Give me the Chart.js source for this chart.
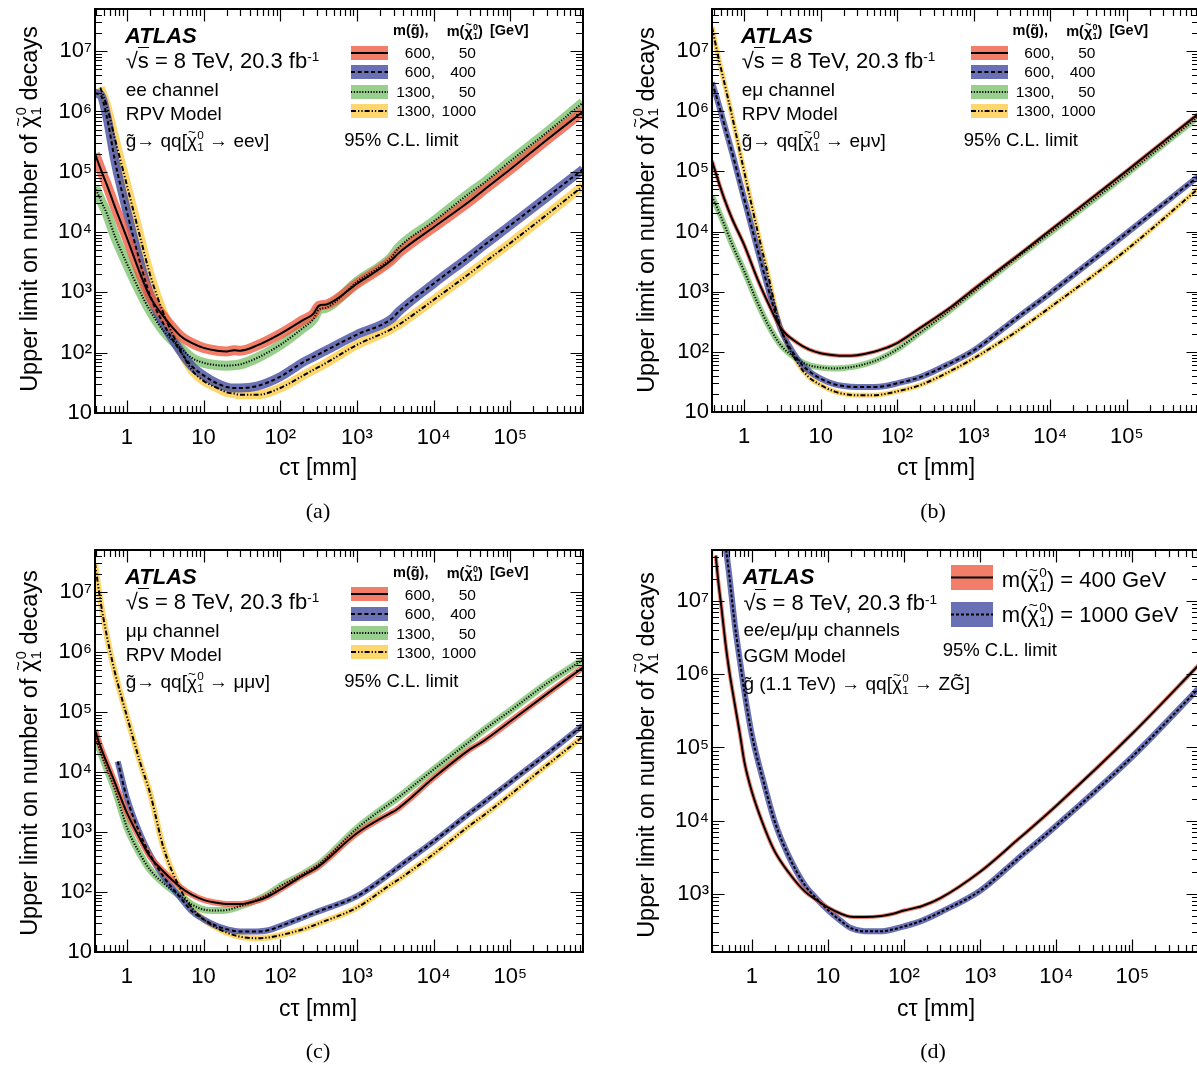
<!DOCTYPE html>
<html><head><meta charset="utf-8">
<script src="https://cdn.jsdelivr.net/npm/chart.js"></script>
<style>
html,body{margin:0;padding:0;background:#fff;}
body{width:1197px;height:1066px;overflow:hidden;position:relative;font-family:"Liberation Sans",Arial,Helvetica,sans-serif;color:#000;}
canvas.cv{position:absolute;}
.t{position:absolute;white-space:nowrap;line-height:1;}
.ss{display:inline-block;vertical-align:-0.3em;font-size:0.62em;line-height:1;text-align:left;margin-left:0.03em;}
.ss span{display:block;}
.til{position:relative;display:inline-block;}
.tm{position:absolute;left:0;right:0;text-align:center;font-size:0.7em;top:-0.45em;line-height:1;}
.up{position:relative;top:-0.5em;font-size:0.62em;}
.rad{border-top:1.4px solid #000;}
.ytitle{position:absolute;white-space:nowrap;line-height:1;font-size:23.5px;transform:translate(-50%,-50%) rotate(-90deg);}
.sw{position:absolute;}
</style></head><body>
<script>
// ---------------- DATA ----------------
const xTicks = [1, 10, 1e2, 1e3, 1e4, 1e5];
const yTicksRPV = [10, 1e2, 1e3, 1e4, 1e5, 1e6, 1e7];
const yTicksGGM = [1e3, 1e4, 1e5, 1e6, 1e7];

// (a) ee channel: c*tau [mm] and upper limits on number of decays
const ctEE = [0.384, 0.45, 0.55, 0.7, 1, 1.5, 2, 3, 5, 7, 10, 15, 20, 25, 30, 50, 100, 200, 270, 320, 400, 1000, 2800, 3500, 1e4, 3e4, 4.5e4, 1e5, 3e5, 8.85e5];
const ee_600_50 = [2.0e5, 1.15e5, 6e4, 2.6e4, 8e3, 2.0e3, 850, 400, 190, 145, 120, 108, 105, 110, 108, 132, 205, 350, 440, 600, 630, 1400, 3400, 4500, 1.2e4, 3.3e4, 5e4, 1.1e5, 3.4e5, 1.0e6];
const ee_600_400 = [2e6, 1.9e6, 8e5, 1.5e5, 2.2e4, 3e3, 900, 300, 105, 60, 42, 31, 27, 26, 26, 28, 40, 70, 85, 95, 110, 200, 360, 480, 1.4e3, 4e3, 6e3, 1.3e4, 3.8e4, 1.1e5];
const ee_1300_50 = [5.6e4, 3.5e4, 2e4, 8.5e3, 3e3, 1e3, 500, 230, 120, 82, 68, 62, 61, 62, 64, 82, 135, 260, 360, 520, 560, 1500, 3800, 5500, 1.5e4, 4.5e4, 6.5e4, 1.5e5, 4.5e5, 1.4e6];
const ee_1300_1000 = [null, 2.5e6, 1.2e6, 3.5e5, 6e4, 8e3, 2e3, 450, 110, 52, 34, 26, 22, 21, 20, 20, 26, 42, 52, 58, 68, 135, 245, 290, 750, 2.1e3, 3.1e3, 6.6e3, 1.95e4, 5.8e4];

// (b) e-mu channel
const ctEM = [0.38, 0.45, 0.55, 0.7, 1, 1.5, 2, 3, 5, 7, 10, 15, 20, 30, 50, 70, 100, 200, 500, 1000, 3000, 3300, 1e4, 1e5, 8.8e5];
const em_600_50 = [1.5e5, 7.5e4, 3.5e4, 1.6e4, 6e3, 1.6e3, 700, 250, 140, 110, 95, 88, 86, 88, 100, 115, 140, 250, 550, 1.1e3, 3.2e3, 3.5e3, 1.05e4, 1.02e5, 9.2e5];
const em_600_400 = [3e6, 1.5e6, 6e5, 2e5, 3.5e4, 5e3, 1.3e3, 240, 75, 48, 36, 29, 27, 26, 26, 27, 30, 38, 65, 105, 300, 330, 950, 9.4e3, 8.4e4];
const em_1300_50 = [3.8e4, 2.4e4, 1.3e4, 6e3, 2.2e3, 650, 300, 130, 75, 60, 55, 53, 54, 58, 70, 85, 110, 210, 500, 1e3, 3e3, 3.3e3, 9.5e3, 9e4, 8.3e5];
const em_1300_1000 = [2.5e7, 9e6, 3e6, 8e5, 1e5, 1e4, 2.2e3, 250, 65, 38, 28, 22, 20, 19, 19, 20, 22, 28, 48, 78, 185, 200, 550, 5e3, 5.3e4];

// (c) mu-mu channel
const ctMM = [0.384, 0.45, 0.55, 0.7, 0.76, 1, 1.5, 2, 3, 5, 7, 10, 15, 20, 30, 50, 70, 100, 200, 280, 320, 1000, 2800, 3200, 1e4, 3e4, 4.5e4, 1e5, 3e5, 8.85e5];
const mm_600_50 = [5e4, 2.7e4, 1.4e4, 6.6e3, 5e3, 2.1e3, 750, 390, 220, 120, 90, 74, 66, 63, 63, 72, 85, 110, 190, 240, 270, 950, 2.1e3, 2.3e3, 8e3, 2.4e4, 3.3e4, 7e4, 2e5, 5.5e5];
const mm_600_400 = [null, null, null, null, 1.5e4, 3.7e3, 900, 420, 180, 80, 48, 35, 27, 24, 22, 22, 23, 27, 38, 45, 48, 85, 210, 240, 700, 2.1e3, 3.1e3, 6.8e3, 2e4, 6e4];
const mm_1300_50 = [4e4, 2.2e4, 1.1e4, 5e3, 3.6e3, 1.2e3, 420, 235, 140, 85, 62, 51, 49, 50, 58, 74, 92, 125, 200, 260, 290, 1.15e3, 3.1e3, 3.5e3, 1.1e4, 3.3e4, 5e4, 1.05e5, 3e5, 7.4e5];
const mm_1300_1000 = [3e7, 7.4e6, 1.8e6, 4.5e5, 3e5, 8.5e4, 1.4e4, 4.5e3, 550, 110, 55, 35, 25, 21, 18, 17, 17.5, 19, 24, 28, 30, 55, 135, 150, 430, 1.3e3, 1.9e3, 4.2e3, 1.3e4, 3.9e4];

// (d) GGM model
const ctGGM = [0.336, 0.36, 0.4, 0.45, 0.5, 0.6, 0.7, 0.8, 1, 1.5, 2, 3, 5, 7, 10, 15, 20, 30, 50, 70, 100, 173, 300, 1000, 3000, 1e4, 1e5, 7.5e5];
const ggm_400 = [4.2e7, 2e7, 8e6, 2.7e6, 1.2e6, 3.8e5, 1.5e5, 6.3e4, 2.5e4, 7.5e3, 3.8e3, 2e3, 1.07e3, 830, 650, 530, 485, 480, 495, 530, 590, 680, 870, 2.0e3, 5.3e3, 1.6e4, 1.55e5, 1.35e6];
const ggm_1000 = [null, null, 1.5e8, 6e7, 2.5e7, 4.7e6, 1.5e6, 5.8e5, 1.5e5, 2.8e4, 9.7e3, 3.4e3, 1.3e3, 870, 600, 420, 340, 307, 307, 325, 358, 430, 560, 1.1e3, 2.9e3, 8.5e3, 7.5e4, 6.5e5];

// legend labels
const rpvMassGluino = ['600,', '600,', '1300,', '1300,'];
const rpvMassChi = ['50', '400', '50', '1000'];
const ggmMassChi = ['400', '1000'];

// ---------------- STYLE ----------------
Chart.defaults.font.family = '"Liberation Sans", Arial, Helvetica, sans-serif';
Chart.defaults.color = '#000';
const RPV_STY = [
  {band: 'rgba(239,93,68,0.8)',  swatch: '#f27d69', dash: []},
  {band: 'rgba(68,76,161,0.8)',  swatch: '#6970b4', dash: [4, 2.7]},
  {band: 'rgba(126,195,111,0.8)', swatch: '#98cf8c', dash: [1.2, 1.6]},
  {band: 'rgba(253,205,74,0.8)', swatch: '#fdd76e', dash: [5, 2, 1.3, 2, 1.3, 2]}
];
const GGM_STY = [
  {band: 'rgba(239,93,68,0.8)', swatch: '#f27d69', dash: []},
  {band: 'rgba(68,76,161,0.8)', swatch: '#6970b4', dash: [3, 2]}
];
const SUP = {'0':'⁰','1':'¹','2':'²','3':'³','4':'⁴','5':'⁵','6':'⁶','7':'⁷','8':'⁸','9':'⁹'};
function powLabel(v) {
  const e = Math.round(Math.log10(v));
  if (e === 0) return '1';
  if (e === 1) return '10';
  return '10' + String(e).split('').map(c => SUP[c]).join('');
}

const frameTicks = {
  id: 'frameTicks',
  afterDatasetsDraw(chart) {
    const {ctx, chartArea: a, scales} = chart;
    const MAJ = 12.5, MIN = 7;
    ctx.save();
    ctx.strokeStyle = '#000';
    ctx.lineWidth = 1.2;
    ctx.beginPath();
    const axis = (s, horiz) => {
      const lo = Math.floor(Math.log10(s.min)), hi = Math.ceil(Math.log10(s.max));
      for (let e = lo; e <= hi; e++) {
        for (let m = 1; m <= 9; m++) {
          const v = m * Math.pow(10, e);
          if (v < s.min * 0.9999 || v > s.max * 1.0001) continue;
          const p = Math.round(s.getPixelForValue(v)) + 0.5;
          const len = m === 1 ? MAJ : MIN;
          if (horiz) {
            ctx.moveTo(p, a.bottom); ctx.lineTo(p, a.bottom - len);
            ctx.moveTo(p, a.top); ctx.lineTo(p, a.top + len);
          } else {
            ctx.moveTo(a.left, p); ctx.lineTo(a.left + len, p);
            ctx.moveTo(a.right, p); ctx.lineTo(a.right - len, p);
          }
        }
      }
    };
    axis(scales.x, true);
    axis(scales.y, false);
    ctx.stroke();
    ctx.lineWidth = 2;
    ctx.strokeRect(a.left, a.top, a.right - a.left, a.bottom - a.top);
    ctx.restore();
  }
};

function pts(xs, ys) {
  const out = [];
  xs.forEach((x, i) => { if (ys[i] != null) out.push({x: x, y: ys[i]}); });
  return out;
}

function makePanel(p) {
  const padTop = 24, padRight = 20, yW = 95, xH = 77;
  const cv = document.createElement('canvas');
  cv.className = 'cv';
  const W = yW + (p.r - p.l) + padRight, H = padTop + (p.b - p.t) + xH;
  cv.width = W; cv.height = H;
  cv.style.left = (p.l - yW) + 'px';
  cv.style.top = (p.t - padTop) + 'px';
  cv.style.width = W + 'px'; cv.style.height = H + 'px';
  document.body.appendChild(cv);
  const datasets = [];
  p.series.forEach((ys, i) => {
    const st = p.sty[i];
    const d = pts(p.ct, ys);
    datasets.push({data: d, borderColor: '#000', borderWidth: 2, borderDash: st.dash, borderCapStyle: 'butt',
      pointRadius: 0, cubicInterpolationMode: 'monotone', fill: false, clip: 0, order: 1});
    datasets.push({data: d, borderColor: st.band, borderWidth: p.band[i], borderJoinStyle: 'round', borderCapStyle: 'butt',
      pointRadius: 0, cubicInterpolationMode: 'monotone', fill: false, clip: 0, order: 2});
  });
  new Chart(cv, {
    type: 'line',
    data: {datasets},
    options: {
      responsive: false, animation: false, devicePixelRatio: 1, events: [],
      layout: {padding: {left: 0, top: padTop, right: padRight, bottom: 0}},
      plugins: {legend: {display: false}, tooltip: {enabled: false}},
      scales: {
        x: {type: 'logarithmic', position: 'bottom', min: p.xmin, max: p.xmax,
          afterBuildTicks: s => { s.ticks = xTicks.map(v => ({value: v})); },
          afterFit: s => { s.height = xH; },
          ticks: {callback: v => powLabel(v), font: {size: 22}, color: '#000', padding: 12, autoSkip: false, maxRotation: 0, minRotation: 0},
          grid: {display: false, drawTicks: false}, border: {display: false}},
        y: {type: 'logarithmic', position: 'left', min: p.ymin, max: p.ymax,
          afterBuildTicks: s => { s.ticks = p.yticks.map(v => ({value: v})); },
          afterFit: s => { s.width = yW; },
          ticks: {callback: v => powLabel(v), font: {size: 22}, color: '#000', padding: 3, autoSkip: false},
          grid: {display: false, drawTicks: false}, border: {display: false}}
      }
    },
    plugins: [frameTicks]
  });
}

makePanel({l: 95, t: 9, r: 583, b: 413, xmin: 0.384, xmax: 8.85e5, ymin: 10, ymax: 5e7, yticks: yTicksRPV,
  ct: ctEE, series: [ee_600_50, ee_600_400, ee_1300_50, ee_1300_1000], sty: RPV_STY, band: [10, 9, 10, 9]});
makePanel({l: 712, t: 9, r: 1199, b: 412, xmin: 0.38, xmax: 8.8e5, ymin: 10, ymax: 5e7, yticks: yTicksRPV,
  ct: ctEM, series: [em_600_50, em_600_400, em_1300_50, em_1300_1000], sty: RPV_STY, band: [4, 6, 6, 5]});
makePanel({l: 95, t: 550, r: 583, b: 952, xmin: 0.384, xmax: 8.85e5, ymin: 10, ymax: 5e7, yticks: yTicksRPV,
  ct: ctMM, series: [mm_600_50, mm_600_400, mm_1300_50, mm_1300_1000], sty: RPV_STY, band: [6, 6, 7, 6]});
makePanel({l: 712, t: 550, r: 1199, b: 952, xmin: 0.336, xmax: 7.5e5, ymin: 160, ymax: 5e7, yticks: yTicksGGM,
  ct: ctGGM, series: [ggm_400, ggm_1000], sty: GGM_STY, band: [4, 6]});

// ---------------- TEXT ----------------
const CHI = '<span class="til">χ<span class="tm">~</span></span><span class="ss"><span>0</span><span>1</span></span>';
function addText(html, x, base, size, o) {
  o = o || {};
  const d = document.createElement('div');
  d.className = 't';
  d.innerHTML = html;
  d.style.fontSize = size + 'px';
  const k = o.serif ? 0.8375 : 0.8465;
  d.style.top = (base - k * size) + 'px';
  if (o.align === 'center') { d.style.left = x + 'px'; d.style.transform = 'translateX(-50%)'; }
  else if (o.align === 'right') { d.style.right = (1197 - x) + 'px'; }
  else d.style.left = x + 'px';
  if (o.bold) d.style.fontWeight = 'bold';
  if (o.italic) d.style.fontStyle = 'italic';
  if (o.serif) d.style.fontFamily = '"Liberation Serif", "Times New Roman", serif';
  document.body.appendChild(d);
}
function swatch(x, y, w, h, color, dash) {
  const d = document.createElement('div');
  d.className = 'sw';
  d.style.left = x + 'px'; d.style.top = y + 'px';
  d.innerHTML = '<svg width="' + w + '" height="' + h + '"><rect x="0" y="0" width="' + w + '" height="' + h + '" fill="' + color + '"/>' +
    '<line x1="0" y1="' + (h / 2) + '" x2="' + w + '" y2="' + (h / 2) + '" stroke="#000" stroke-width="2" stroke-dasharray="' + (dash.length ? dash.join(' ') : 'none') + '"/></svg>';
  document.body.appendChild(d);
}
function yTitle(cx, cy) {
  const d = document.createElement('div');
  d.className = 'ytitle';
  d.innerHTML = 'Upper limit on number of ' + CHI + ' decays';
  d.style.left = cx + 'px'; d.style.top = cy + 'px';
  document.body.appendChild(d);
}
const SQRTS = '√<span class="rad">s</span> = 8 TeV, 20.3 fb<span class="up">-1</span>';

function rpvText(dx, dy, ldx, chan, decay) {
  addText('ATLAS', 125 + dx, 43.3 + dy, 22, {bold: true, italic: true});
  addText(SQRTS, 125.7 + dx, 68.3 + dy, 22);
  addText(chan, 125.7 + dx, 96 + dy, 19);
  addText('RPV Model', 125.7 + dx, 120 + dy, 19);
  addText('g\u0303→ qq[' + CHI + ' → ' + decay + ']', 125.7 + dx, 145 + dy, 19);
  addText('m(g\u0303),', 393 + ldx, 35.7 + dy, 14.5, {bold: true});
  addText('m(' + CHI + ')', 446.7 + ldx, 35.7 + dy, 14.5, {bold: true});
  addText('[GeV]', 490 + ldx, 35.7 + dy, 14.5, {bold: true});
  const rows = [52.8, 72, 91.7, 110.8];
  rows.forEach((c, i) => {
    swatch(351 + ldx, c - 7 + dy, 37, 14, RPV_STY[i].swatch, RPV_STY[i].dash);
    addText(rpvMassGluino[i], 435 + ldx, c + 5.6 + dy, 15.5, {align: 'right'});
    addText(rpvMassChi[i], 476 + ldx, c + 5.6 + dy, 15.5, {align: 'right'});
  });
  addText('95% C.L. limit', 344.3 + ldx, 146.5 + dy, 18.5);
}
rpvText(0, 0, 0, 'ee channel', 'eeν');
rpvText(616, 0, 619.5, 'eμ channel', 'eμν');
rpvText(0, 541.5, 0, 'μμ channel', 'μμν');

// (d)
addText('ATLAS', 742.7, 585, 22, {bold: true, italic: true});
addText(SQRTS, 743.4, 611, 22);
addText('ee/eμ/μμ channels', 743.4, 636.5, 19);
addText('GGM Model', 743.4, 662, 19);
addText('g\u0303 (1.1 TeV) → qq[' + CHI + ' → ZG\u0303]', 743.4, 688, 19);
swatch(951, 565, 42, 25, GGM_STY[0].swatch, GGM_STY[0].dash);
swatch(951, 601.5, 42, 25, GGM_STY[1].swatch, GGM_STY[1].dash);
addText('m(' + CHI + ') = ' + ggmMassChi[0] + ' GeV', 1001.7, 585, 22);
addText('m(' + CHI + ') = ' + ggmMassChi[1] + ' GeV', 1001.7, 620, 22);
addText('95% C.L. limit', 942.7, 656.5, 18.5);

// axis titles
yTitle(29.3, 208.5); yTitle(646.3, 210); yTitle(29.3, 753); yTitle(646.3, 755);
addText('cτ [mm]', 318, 475, 23, {align: 'center'});
addText('cτ [mm]', 936, 475, 23, {align: 'center'});
addText('cτ [mm]', 318, 1016, 23, {align: 'center'});
addText('cτ [mm]', 936, 1016, 23, {align: 'center'});
// captions
addText('(a)', 318, 518, 22, {align: 'center', serif: true});
addText('(b)', 933, 518, 22, {align: 'center', serif: true});
addText('(c)', 318, 1058, 22, {align: 'center', serif: true});
addText('(d)', 933, 1058, 22, {align: 'center', serif: true});
</script>
</body></html>
